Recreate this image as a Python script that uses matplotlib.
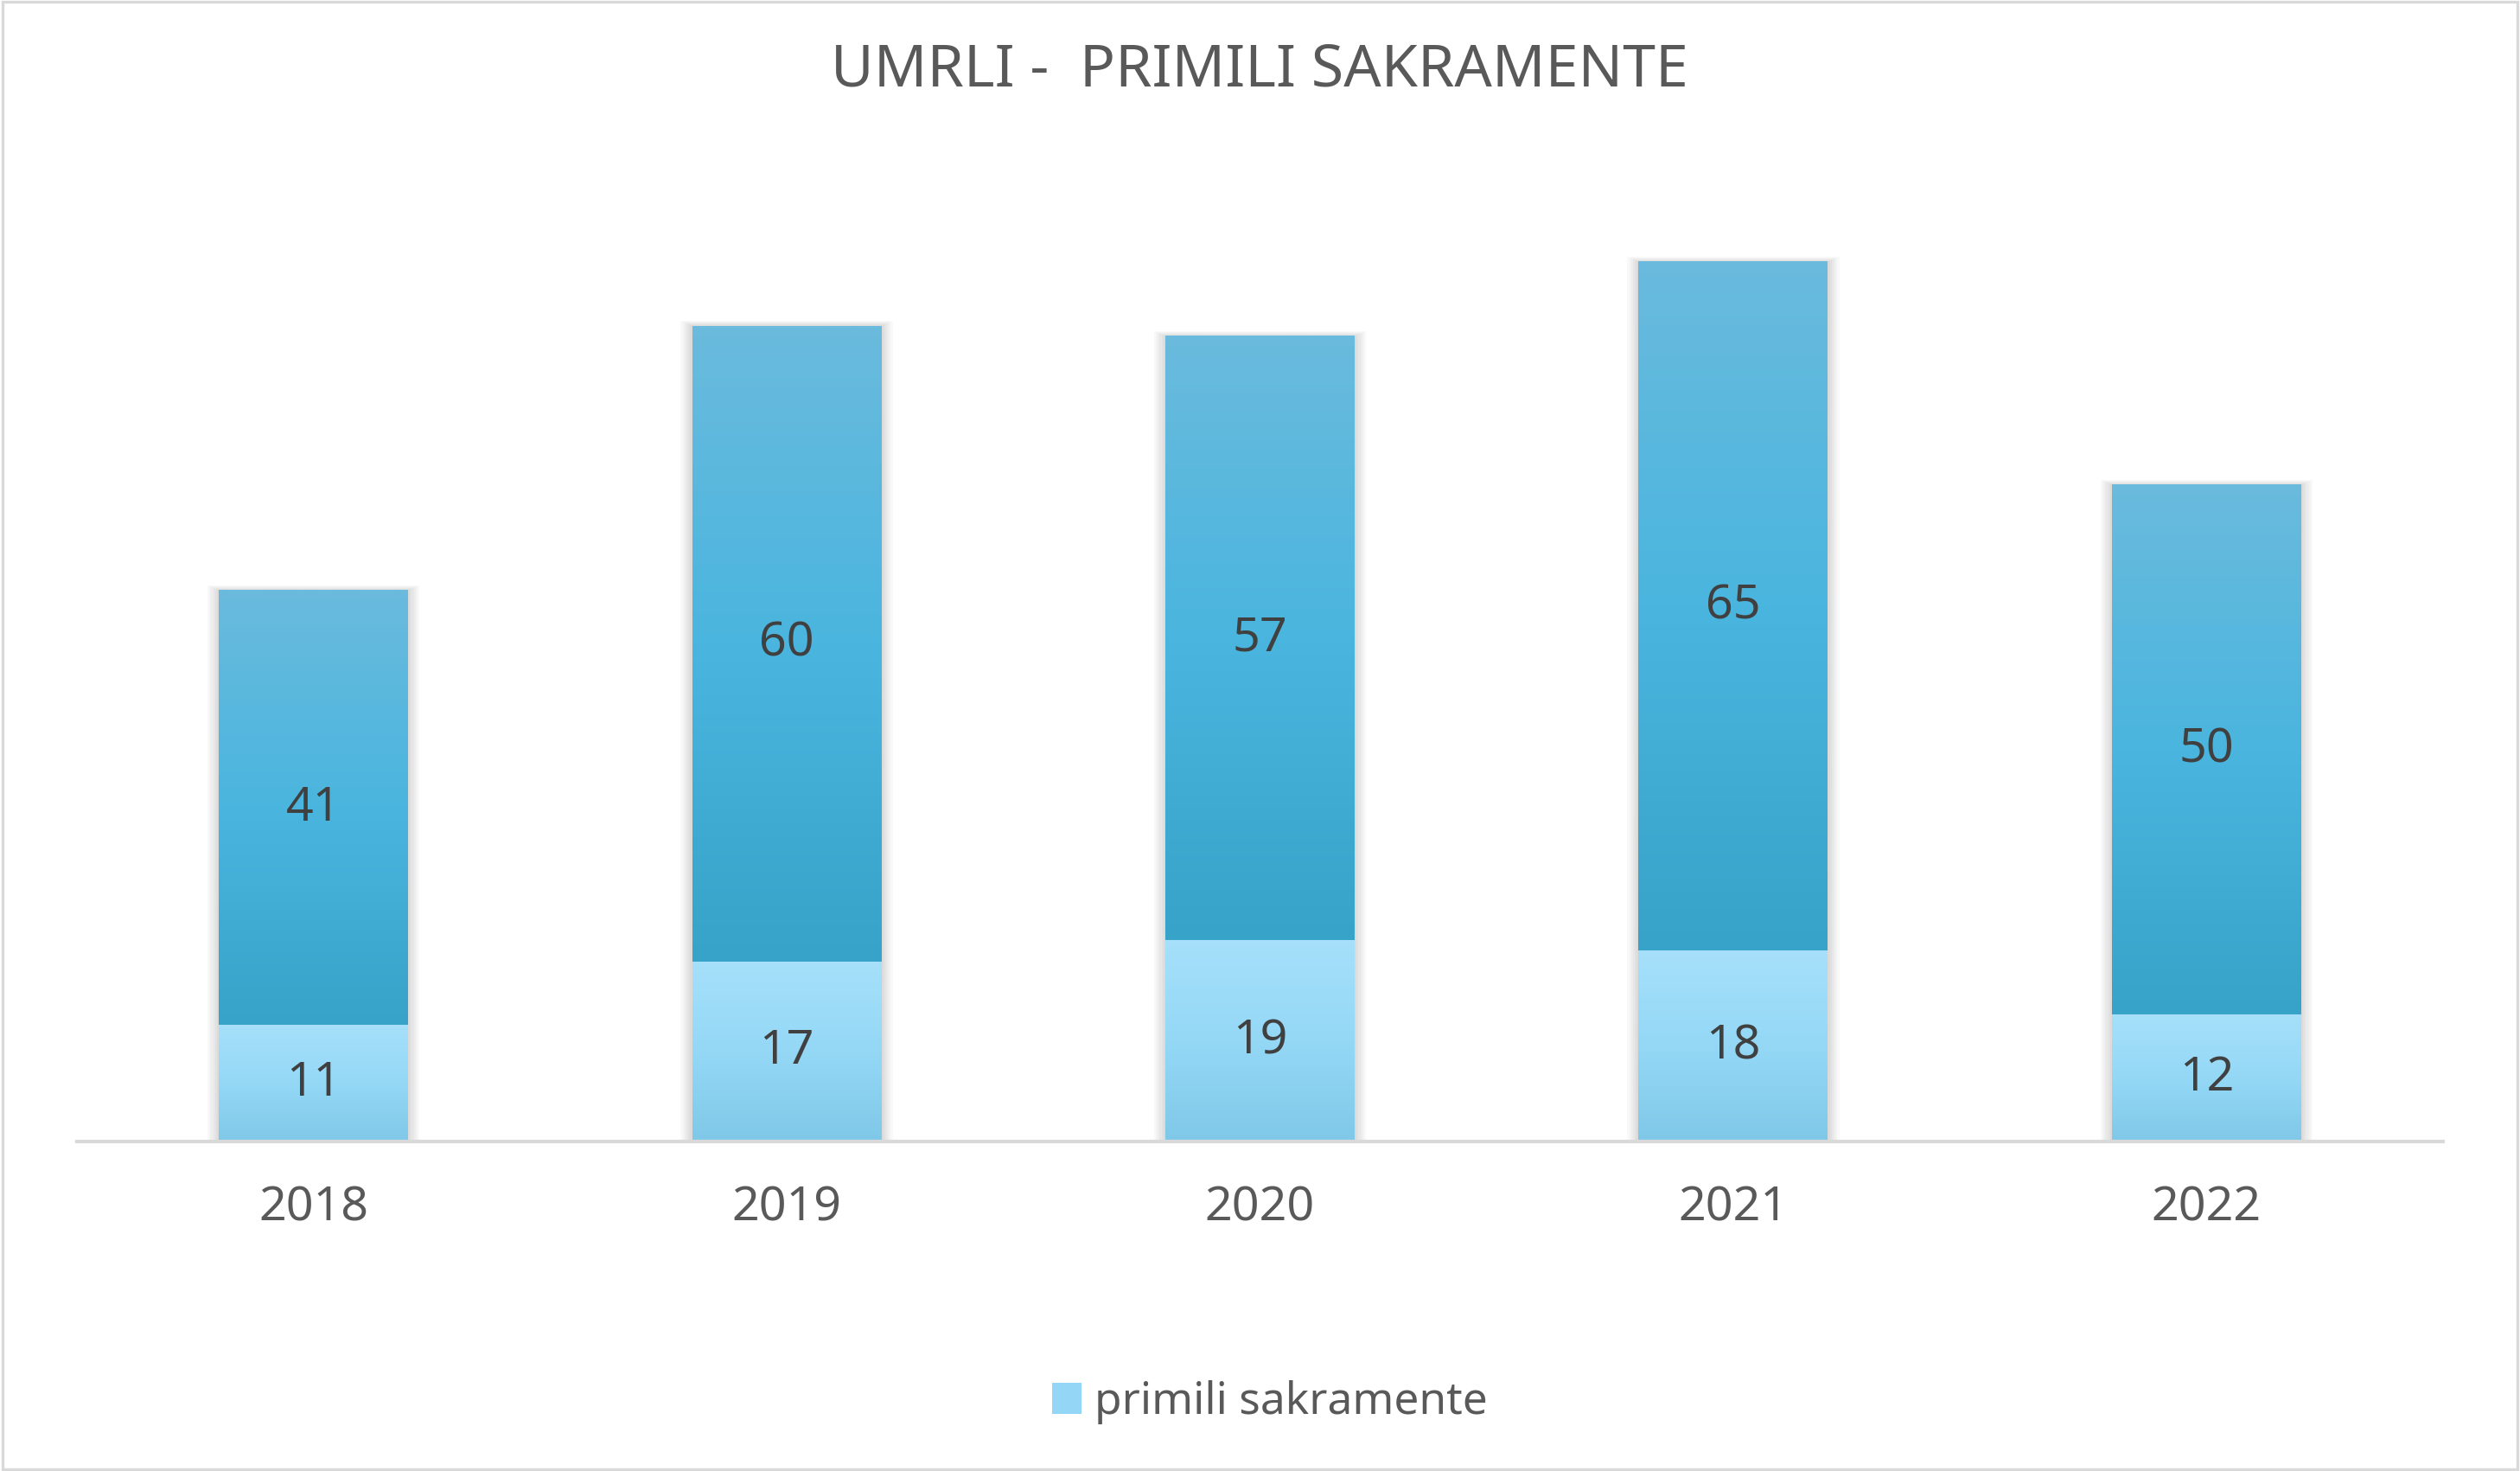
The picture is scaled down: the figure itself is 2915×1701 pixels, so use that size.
import matplotlib
matplotlib.use("Agg")
import matplotlib.pyplot as plt
import numpy as np
from matplotlib.patches import Rectangle
from matplotlib.colors import LinearSegmentedColormap

years = ["2018", "2019", "2020", "2021", "2022"]
primili = [11, 17, 19, 18, 12]
ostali = [41, 60, 57, 65, 50]

plt.rcParams['font.family'] = ['Noto Sans', 'DejaVu Sans']

fig = plt.figure(figsize=(14.575, 8.505), dpi=200)
ax = fig.add_axes([0.0305, 0.2240, 0.939, 0.6481])

width = 0.4
x = np.arange(len(years))

cmap_top = LinearSegmentedColormap.from_list("top", ["#38A3C8", "#4AB5DF", "#6ABBDD"])
cmap_bot = LinearSegmentedColormap.from_list("bot", ["#80C8E8", "#94D8F6", "#A6E0FA"])
grad = np.linspace(0, 1, 256).reshape(-1, 1)

b1 = ax.bar(x, primili, width, color="#94D6F5", label="primili sakramente", zorder=2)
b2 = ax.bar(x, ostali, width, bottom=primili, color="#4AB5DF", zorder=2)

# shadows
for xi, p, o in zip(x, primili, ostali):
    tot = p + o
    for k in range(6):
        dx = 0.004 * (k + 1)
        dy = 0.08 * (k + 1)
        ax.add_patch(Rectangle((xi - width / 2 - dx, 0), width + 2 * dx, tot + dy,
                               facecolor="#000000", alpha=0.025, lw=0, zorder=1))

for bars, cm in ((b1, cmap_bot), (b2, cmap_top)):
    for r in bars:
        x0, y0 = r.get_x(), r.get_y()
        w, h = r.get_width(), r.get_height()
        ax.imshow(grad, extent=(x0, x0 + w, y0, y0 + h), origin="lower",
                  aspect="auto", cmap=cm, zorder=3)

for xi, p, o in zip(x, primili, ostali):
    ax.text(xi, p / 2, str(p), ha="center", va="center", fontsize=20, color="#404040", zorder=5)
    ax.text(xi, p + o / 2, str(o), ha="center", va="center", fontsize=20, color="#404040", zorder=5)

ax.set_xlim(-0.5, 4.5)
ax.set_ylim(0, 90)
ax.set_xticks(x)
ax.set_xticklabels(years, fontsize=20, color="#595959")
ax.tick_params(axis="x", length=0, pad=18)
ax.set_yticks([])
for s in ["top", "right", "left"]:
    ax.spines[s].set_visible(False)
ax.spines["bottom"].set_color("#D9D9D9")
ax.spines["bottom"].set_linewidth(1.5)
ax.spines["bottom"].set_zorder(6)
ax.patch.set_alpha(0)

fig.text(0.4998, 0.952, "UMRLI -  PRIMILI SAKRAMENTE", ha="center", va="center",
         fontsize=24.5, color="#595959")

leg = fig.legend(handles=[b1], labels=["primili sakramente"], loc="center",
                 bbox_to_anchor=(0.504, 0.047), frameon=False, fontsize=18.5,
                 handlelength=0.65, handleheight=0.7, handletextpad=0.3)
for t in leg.get_texts():
    t.set_color("#595959")

fig.patches.append(Rectangle((0.001, 0.001), 0.998, 0.998, transform=fig.transFigure,
                             fill=False, edgecolor="#D9D9D9", lw=1.2))

fig.savefig("out.png", dpi=200, facecolor="white")
